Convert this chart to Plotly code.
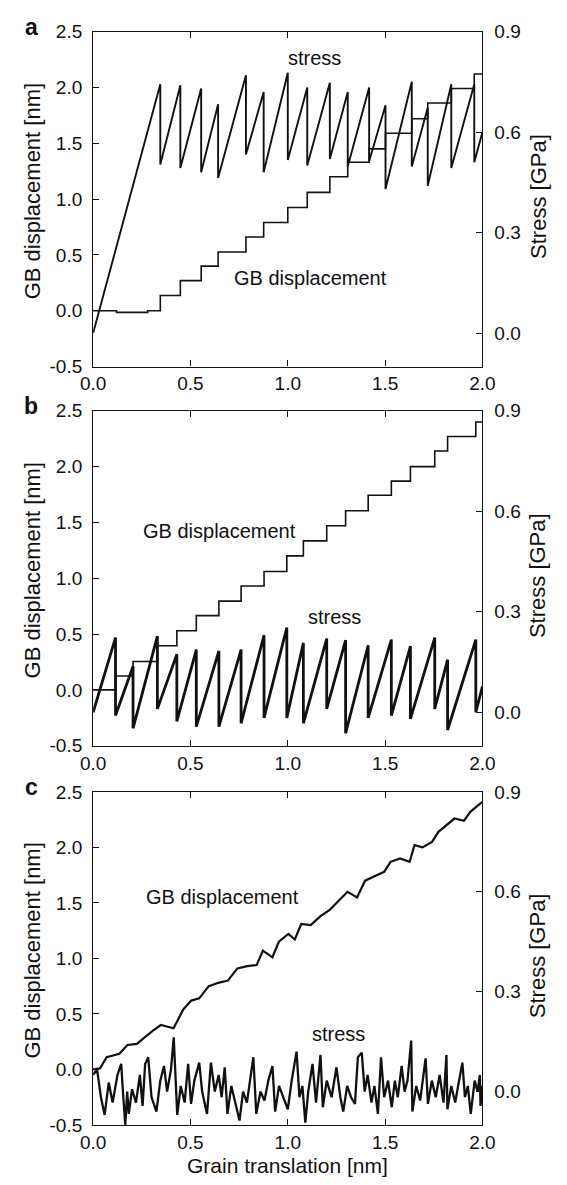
import plotly.graph_objects as go

# ---------------- Panel a ----------------
a_gb_x = [0.0, 0.12, 0.28, 0.345, 0.448, 0.555, 0.642, 0.785, 0.876, 1.0, 1.1, 1.216,
          1.308, 1.418, 1.502, 1.637, 1.719, 1.84, 1.958, 2.0]
a_gb_y = [0.0, -0.015, 0.0, 0.137, 0.27, 0.40, 0.526, 0.66, 0.79, 0.925, 1.06, 1.2,
          1.33, 1.45, 1.59, 1.72, 1.86, 1.99, 2.12, 2.12]
a_st_x = [0.0, 0.345, 0.345, 0.448, 0.448, 0.555, 0.555, 0.642, 0.642, 0.785, 0.785,
          0.876, 0.876, 1.0, 1.0, 1.1, 1.1, 1.216, 1.216, 1.308, 1.308, 1.418, 1.418,
          1.502, 1.502, 1.637, 1.637, 1.719, 1.719, 1.84, 1.84, 1.958, 1.958, 2.0]
a_st = [0.0, 0.743, 0.503, 0.74, 0.493, 0.73, 0.48, 0.683, 0.463, 0.77, 0.533, 0.72,
        0.48, 0.777, 0.517, 0.733, 0.50, 0.747, 0.52, 0.72, 0.497, 0.733, 0.513, 0.68,
        0.43, 0.75, 0.497, 0.673, 0.44, 0.743, 0.493, 0.743, 0.51, 0.60]

# ---------------- Panel b ----------------
b_gb_x = [0.0, 0.115, 0.205, 0.33, 0.43, 0.53, 0.646, 0.76, 0.878, 0.995, 1.08, 1.2,
          1.297, 1.413, 1.532, 1.63, 1.755, 1.821, 1.966, 2.0]
b_gb_y = [0.0, 0.125, 0.255, 0.395, 0.53, 0.665, 0.795, 0.93, 1.06, 1.2, 1.335, 1.47,
          1.605, 1.743, 1.87, 2.0, 2.14, 2.27, 2.40, 2.40]
b_st_x = [0.0, 0.115, 0.115, 0.205, 0.205, 0.33, 0.33, 0.43, 0.43, 0.53, 0.53, 0.646,
          0.646, 0.76, 0.76, 0.878, 0.878, 0.995, 0.995, 1.08, 1.08, 1.2, 1.2, 1.297,
          1.297, 1.413, 1.413, 1.532, 1.532, 1.63, 1.63, 1.755, 1.755, 1.821, 1.821,
          1.966, 1.966, 2.0]
b_st = [0.0, 0.223, -0.01, 0.137, -0.048, 0.227, 0.01, 0.173, -0.027, 0.187, -0.043,
        0.183, -0.043, 0.187, -0.033, 0.23, -0.017, 0.253, -0.017, 0.207, -0.033, 0.22,
        0.01, 0.215, -0.063, 0.20, -0.017, 0.217, -0.01, 0.197, -0.02, 0.223, 0.01,
        0.157, -0.053, 0.217, 0.0, 0.077]

# ---------------- Panel c ----------------
c_gb_x = [0.0, 0.036, 0.069, 0.135, 0.176, 0.225, 0.266, 0.307, 0.348, 0.413, 0.463,
          0.504, 0.545, 0.594, 0.643, 0.692, 0.741, 0.791, 0.84, 0.872, 0.921, 0.954,
          1.003, 1.036, 1.069, 1.118, 1.168, 1.217, 1.25, 1.307, 1.356, 1.397, 1.446,
          1.495, 1.528, 1.577, 1.626, 1.651, 1.692, 1.741, 1.774, 1.823, 1.856, 1.905,
          1.938, 1.971, 2.0]
c_gb_y = [0.0, 0.01, 0.11, 0.14, 0.22, 0.23, 0.29, 0.35, 0.40, 0.37, 0.54, 0.62, 0.64,
          0.75, 0.78, 0.80, 0.91, 0.93, 0.94, 1.07, 1.01, 1.15, 1.22, 1.17, 1.31, 1.30,
          1.38, 1.44, 1.50, 1.60, 1.55, 1.70, 1.74, 1.78, 1.87, 1.90, 1.87, 2.02, 2.0,
          2.05, 2.14, 2.21, 2.26, 2.24, 2.32, 2.37, 2.41]
c_st_x = [0.0, 0.02, 0.04, 0.059, 0.08, 0.10, 0.125, 0.144, 0.155, 0.165, 0.175, 0.183,
          0.20, 0.22, 0.24, 0.254, 0.267, 0.283, 0.30, 0.325, 0.345, 0.364, 0.38, 0.40,
          0.414, 0.432, 0.45, 0.47, 0.488, 0.503, 0.52, 0.545, 0.56, 0.585, 0.605, 0.625,
          0.645, 0.66, 0.676, 0.69, 0.71, 0.73, 0.752, 0.77, 0.79, 0.81, 0.823, 0.838,
          0.86, 0.88, 0.90, 0.921, 0.935, 0.955, 0.975, 1.0, 1.02, 1.045, 1.06, 1.075,
          1.09, 1.105, 1.127, 1.145, 1.168, 1.18, 1.20, 1.225, 1.25, 1.27, 1.285, 1.305,
          1.325, 1.345, 1.36, 1.38, 1.395, 1.41, 1.43, 1.445, 1.463, 1.479, 1.495, 1.515,
          1.534, 1.55, 1.565, 1.585, 1.60, 1.615, 1.634, 1.64, 1.66, 1.68, 1.708, 1.72,
          1.74, 1.76, 1.78, 1.80, 1.815, 1.82, 1.84, 1.86, 1.88, 1.897, 1.91, 1.925,
          1.94, 1.96, 1.975, 1.987, 1.99, 2.0]
c_st = [0.05, 0.067, -0.017, -0.07, 0.027, -0.033, 0.05, 0.083, -0.017, -0.1, 0.0,
        -0.067, 0.007, -0.033, 0.05, -0.043, 0.083, 0.103, -0.017, -0.06, 0.033, 0.077,
        0.0, 0.067, 0.163, -0.07, 0.017, -0.033, 0.083, -0.037, 0.033, 0.087, 0.0,
        -0.067, 0.087, 0.0, 0.05, -0.017, 0.073, -0.067, 0.017, -0.033, -0.087, 0.0,
        -0.033, 0.05, 0.103, -0.067, 0.0, -0.027, 0.033, 0.077, -0.06, 0.017, -0.017,
        -0.053, 0.033, 0.12, -0.017, 0.017, -0.093, 0.0, 0.083, -0.033, 0.11, -0.047,
        0.033, -0.017, 0.073, -0.017, -0.06, 0.017, -0.017, -0.037, 0.103, 0.117, 0.0,
        0.05, -0.033, 0.017, -0.067, 0.103, -0.017, 0.033, -0.047, 0.033, -0.017, 0.077,
        0.0, 0.033, 0.153, -0.06, 0.017, -0.027, 0.1, -0.037, 0.033, -0.017, 0.05,
        -0.033, 0.11, -0.053, 0.017, -0.033, 0.033, 0.087, -0.017, 0.017, -0.067, 0.033,
        0.0, 0.05, -0.043, 0.017]

left_ticks = [-0.5, 0.0, 0.5, 1.0, 1.5, 2.0, 2.5]
right_ticks = [0.0, 0.3, 0.6, 0.9]
x_ticks = [0.0, 0.5, 1.0, 1.5, 2.0]
panel_letters = ["a", "b", "c"]

W, H = 567, 1185
FONT = "Liberation Sans, Arial, sans-serif"
INK = "#111111"

# panel pixel boxes (top, bottom)
panels = [(22, 363), (408, 749), (796, 1135)]
xl, xr = 84, 492

fig = go.Figure()

series = [
    (a_gb_x, a_gb_y, "hv", 1.6, a_st_x, a_st, 1.9),
    (b_gb_x, b_gb_y, "hv", 1.6, b_st_x, b_st, 2.8),
    (c_gb_x, c_gb_y, "linear", 2.2, c_st_x, c_st, 2.3),
]

layout = dict(width=W, height=H, margin=dict(l=0, r=0, t=0, b=0),
              paper_bgcolor="white", plot_bgcolor="white", showlegend=False,
              font=dict(family=FONT, size=18, color=INK))
annotations = []
for i, (top, bot) in enumerate(panels):
    n = i + 1
    xa = "x" if n == 1 else f"x{n}"
    yl = 2 * i + 1
    yr = 2 * i + 2
    yla = "y" if yl == 1 else f"y{yl}"
    yra = f"y{yr}"
    dom_y = [1 - bot / H, 1 - top / H]
    gx, gy, shape, gw, sx, sy, sw = series[i]
    fig.add_trace(go.Scatter(x=gx, y=gy, mode="lines", line=dict(color=INK, width=gw, shape=shape),
                             xaxis=xa, yaxis=yla))
    fig.add_trace(go.Scatter(x=sx, y=sy, mode="lines", line=dict(color=INK, width=sw),
                             xaxis=xa, yaxis=yra))
    xkey = "xaxis" if n == 1 else f"xaxis{n}"
    ylkey = "yaxis" if yl == 1 else f"yaxis{yl}"
    yrkey = f"yaxis{yr}"
    tf = dict(size=19, family=FONT, color=INK)
    layout[xkey] = dict(domain=[xl / W, xr / W], anchor=yla, range=[0, 2.0],
                        tickvals=x_ticks, ticktext=[f"{v:.1f}" for v in x_ticks],
                        ticks="inside", ticklen=6, tickcolor=INK, showline=True,
                        linecolor=INK, linewidth=1.2, mirror="ticks", showgrid=False,
                        zeroline=False, tickfont=tf, ticklabelstandoff=0)
    layout[ylkey] = dict(domain=dom_y, anchor=xa, range=[-0.5, 2.5],
                         tickvals=left_ticks, ticktext=[f"{v:.1f}" for v in left_ticks],
                         ticks="inside", ticklen=6, tickcolor=INK, showline=True,
                         linecolor=INK, linewidth=1.2, showgrid=False, zeroline=False,
                         tickfont=tf, ticklabelstandoff=6)
    layout[yrkey] = dict(overlaying=yla, anchor=xa, side="right", range=[-0.1, 0.9],
                         tickvals=right_ticks, ticktext=[f"{v:.1f}" for v in right_ticks],
                         ticks="inside", ticklen=6, tickcolor=INK, showline=True,
                         linecolor=INK, linewidth=1.2, showgrid=False, zeroline=False,
                         tickfont=tf, ticklabelstandoff=7)
    cy = (top + bot) / 2
    annotations.append(dict(x=20 / W, y=1 - (cy - 8) / H, xref="paper", yref="paper",
                            xanchor="center", yanchor="middle",
                            text="GB displacement [nm]", textangle=-90, showarrow=False,
                            font=dict(size=22, family=FONT, color=INK)))
    annotations.append(dict(x=550 / W, y=1 - (cy - 3) / H, xref="paper", yref="paper",
                            xanchor="center", yanchor="middle",
                            text="Stress [GPa]", textangle=-90, showarrow=False,
                            font=dict(size=22, family=FONT, color=INK)))
    annotations.append(dict(x=19 / W, y=1 - (top - 5) / H, xref="paper", yref="paper",
                            xanchor="center", yanchor="middle",
                            text="<b>" + panel_letters[i] + "</b>", showarrow=False,
                            font=dict(size=23, family=FONT, color=INK)))

lab = dict(size=20, family=FONT, color=INK)
annotations += [
    dict(x=1.135, y=2.26, xref="x", yref="y", text="stress", showarrow=False, font=lab),
    dict(x=1.115, y=0.29, xref="x", yref="y", text="GB displacement", showarrow=False, font=lab),
    dict(x=0.65, y=1.42, xref="x2", yref="y3", text="GB displacement", showarrow=False, font=lab),
    dict(x=1.24, y=0.65, xref="x2", yref="y3", text="stress", showarrow=False, font=lab),
    dict(x=0.667, y=1.55, xref="x3", yref="y5", text="GB displacement", showarrow=False, font=lab),
    dict(x=1.263, y=0.32, xref="x3", yref="y5", text="stress", showarrow=False, font=lab),
    dict(x=(xl + xr) / 2 / W, y=1 - 1176 / H, xref="paper", yref="paper",
         xanchor="center", yanchor="middle",
         text="Grain translation [nm]", showarrow=False,
         font=dict(size=21, family=FONT, color=INK)),
]
layout["annotations"] = annotations
fig.update_layout(**layout)
fig.write_html("out.html", config={"displayModeBar": False},
               post_script="document.body.style.margin='0px';document.body.style.overflow='hidden';")
